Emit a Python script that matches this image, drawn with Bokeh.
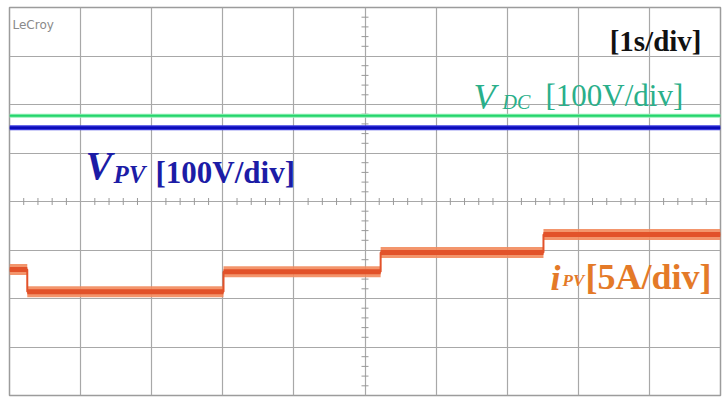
import numpy as np
from bokeh.plotting import figure
from bokeh.models import Range1d, Label, FixedTicker, Grid
from bokeh.embed import file_html
from bokeh.resources import INLINE

# ---- data (oscilloscope: 1 s/div horizontally, values in divisions) ----
t_start, t_end = 0.0, 10.0
vdc_level = 1.77          # V_DC trace, divisions
vpv_level = 1.52          # V_PV trace, divisions
ipv_edges = [0.0, 0.25, 3.01, 5.22, 7.51, 10.0]     # step times (s)
ipv_levels = [-1.40, -1.86, -1.45, -1.05, -0.68]    # i_PV level per interval (div)
x_ticks = list(range(0, 11))
y_ticks = list(range(-4, 5))

W, H = 726, 402
L, R, T, B = 9, 6, 7, 7
fw, fh = W - L - R, H - T - B


def xd(px):
    return t_start + (px - L) / fw * (t_end - t_start)


def yd(py):
    return 4 - (py - T) / fh * 8


p = figure(width=W, height=H, x_range=Range1d(t_start, t_end), y_range=Range1d(-4, 4),
           x_axis_type=None, y_axis_type=None, output_backend="svg", toolbar_location=None,
           min_border_left=L, min_border_right=R, min_border_top=T, min_border_bottom=B)
p.background_fill_color = "white"
p.border_fill_color = "white"
p.outline_line_color = "#9c9c9c"
p.outline_line_width = 1.5

grid_col = "#a8a8a8"
p.add_layout(Grid(dimension=0, ticker=FixedTicker(ticks=x_ticks), grid_line_color=grid_col, grid_line_width=1.2))
p.add_layout(Grid(dimension=1, ticker=FixedTicker(ticks=y_ticks), grid_line_color=grid_col, grid_line_width=1.2))

# minor tick marks on the centre lines
mx = [v for v in np.round(np.arange(0.2, 10.0, 0.2), 2) if abs(v - round(v)) > 1e-6]
my = [v for v in np.round(np.arange(-3.8, 4.0, 0.2), 2) if abs(v - round(v)) > 1e-6]
p.scatter(x=mx, y=[0] * len(mx), marker="dash", angle=np.pi / 2, size=7, line_color="#999999", line_width=1)
p.scatter(x=[5] * len(my), y=my, marker="dash", size=7, line_color="#999999", line_width=1)

# V_DC and V_PV traces
p.line(x=[t_start, t_end], y=[vdc_level] * 2, line_width=4, line_color="#8ff0b4")
p.line(x=[t_start, t_end], y=[vdc_level] * 2, line_width=2, line_color="#25d46c")
p.line(x=[t_start, t_end], y=[vpv_level] * 2, line_width=5, line_color="#3a3ae0")
p.line(x=[t_start, t_end], y=[vpv_level] * 2, line_width=2.5, line_color="#0c0cb8")

# i_PV trace
p.segment(x0=ipv_edges[:-1], x1=ipv_edges[1:], y0=ipv_levels, y1=ipv_levels,
          line_width=11, line_color="#f28a5c", line_alpha=0.9)
p.segment(x0=ipv_edges[:-1], x1=ipv_edges[1:], y0=ipv_levels, y1=ipv_levels,
          line_width=5, line_color="#e2522a")
p.step(x=ipv_edges, y=ipv_levels + [ipv_levels[-1]], mode="after", line_width=2, line_color="#e2522a")

SERIF = "Liberation Serif"


def lab(text, px, py, size, color, style="normal", align="left", font=SERIF):
    p.add_layout(Label(x=xd(px), y=yd(py), text=text, text_font=font, text_font_size=f"{size}px",
                       text_font_style=style, text_color=color, text_align=align,
                       text_baseline="alphabetic"))


lab("LeCroy", 12, 24, 12, "#8a8a8a", font="DejaVu Sans")
lab("[1s/div]", 701, 40, 29, "#111111", style="bold", align="right")

teal = "#2aaf8a"
lab("V", 473, 96, 36, teal, style="italic")
lab("DC", 502, 101, 20, teal, style="italic")
lab("[100V/div]", 545, 95, 31, teal)

blue = "#1c1ca6"
lab("V", 85, 165, 40, blue, style="bold italic")
lab("PV", 113, 174, 25, blue, style="bold italic")
lab("[100V/div]", 155, 172, 31, blue, style="bold")

orange = "#e47a28"
lab("i", 550, 277, 36, orange, style="bold italic")
lab("PV", 562, 280, 17, orange, style="bold italic")
lab("[5A/div]", 585, 276, 36, orange, style="bold")

open("out.html", "w").write(file_html(p, INLINE))
